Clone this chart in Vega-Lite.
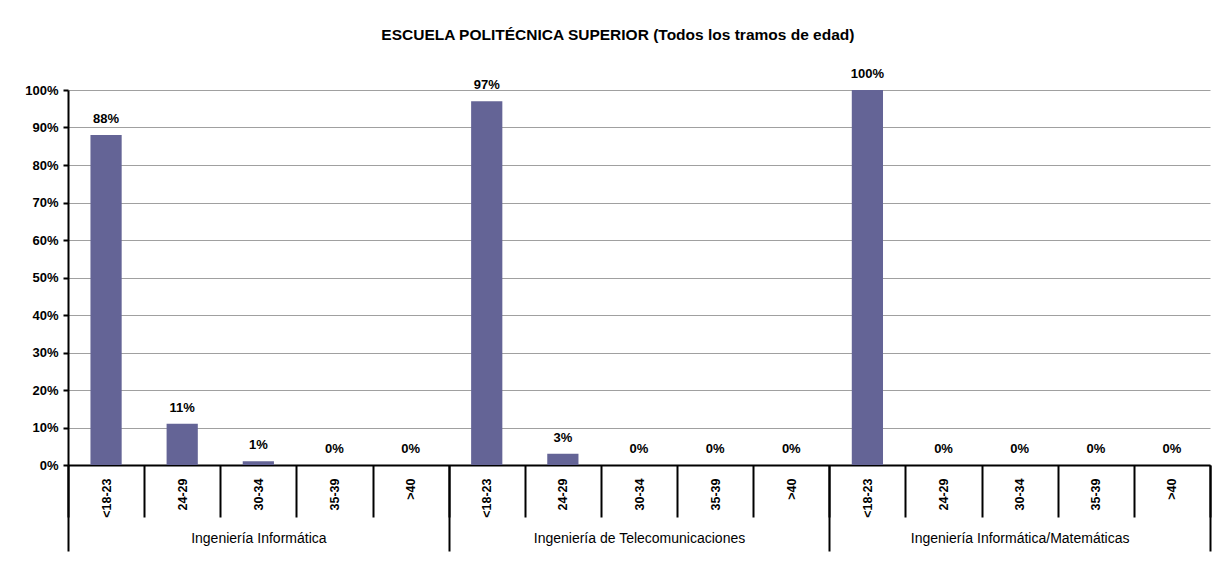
{
  "$schema": "https://vega.github.io/schema/vega-lite/v6.json",
  "width": 1142,
  "height": 375,
  "autosize": {"type": "none"},
  "padding": {"left": 68, "top": 90, "right": 21, "bottom": 111},
  "background": "white",
  "title": {
    "text": "ESCUELA POLITÉCNICA SUPERIOR (Todos los tramos de edad)",
    "font": "Liberation Sans",
    "fontSize": 15.5,
    "fontWeight": "bold",
    "color": "black",
    "anchor": "middle",
    "frame": "bounds",
    "offset": 25
  },
  "data": {
    "values": [
      {"key": "II|<18-23", "group": "Ingeniería Informática", "age": "<18-23", "pct": 0.88},
      {"key": "II|24-29", "group": "Ingeniería Informática", "age": "24-29", "pct": 0.11},
      {"key": "II|30-34", "group": "Ingeniería Informática", "age": "30-34", "pct": 0.01},
      {"key": "II|35-39", "group": "Ingeniería Informática", "age": "35-39", "pct": 0.0},
      {"key": "II|>40", "group": "Ingeniería Informática", "age": ">40", "pct": 0.0},
      {"key": "IT|<18-23", "group": "Ingeniería de Telecomunicaciones", "age": "<18-23", "pct": 0.97},
      {"key": "IT|24-29", "group": "Ingeniería de Telecomunicaciones", "age": "24-29", "pct": 0.03},
      {"key": "IT|30-34", "group": "Ingeniería de Telecomunicaciones", "age": "30-34", "pct": 0.0},
      {"key": "IT|35-39", "group": "Ingeniería de Telecomunicaciones", "age": "35-39", "pct": 0.0},
      {"key": "IT|>40", "group": "Ingeniería de Telecomunicaciones", "age": ">40", "pct": 0.0},
      {"key": "IM|<18-23", "group": "Ingeniería Informática/Matemáticas", "age": "<18-23", "pct": 1.0},
      {"key": "IM|24-29", "group": "Ingeniería Informática/Matemáticas", "age": "24-29", "pct": 0.0},
      {"key": "IM|30-34", "group": "Ingeniería Informática/Matemáticas", "age": "30-34", "pct": 0.0},
      {"key": "IM|35-39", "group": "Ingeniería Informática/Matemáticas", "age": "35-39", "pct": 0.0},
      {"key": "IM|>40", "group": "Ingeniería Informática/Matemáticas", "age": ">40", "pct": 0.0}
    ]
  },
  "layer": [
    {
      "encoding": {
        "x": {
          "field": "key",
          "type": "nominal",
          "sort": null,
          "scale": {"paddingInner": 0, "paddingOuter": 0},
          "axis": {
            "title": null,
            "orient": "bottom",
            "labelExpr": "split(datum.value, '|')[1]",
            "labelAngle": -90,
            "labelAlign": "right",
            "labelBaseline": "middle",
            "labelPadding": -39,
            "labelFont": "Liberation Sans",
            "labelFontSize": 12.5,
            "labelFontWeight": "bold",
            "labelColor": "black",
            "tickBand": "extent",
            "tickSize": 52,
            "tickWidth": 2,
            "tickColor": "black",
            "domainColor": "black",
            "domainWidth": 2,
            "grid": false
          }
        },
        "y": {
          "field": "pct",
          "type": "quantitative",
          "scale": {"domain": [0, 1], "nice": false},
          "axis": {
            "title": null,
            "values": [0, 0.1, 0.2, 0.3, 0.4, 0.5, 0.6, 0.7, 0.8, 0.9, 1],
            "format": ".0%",
            "labelOverlap": false,
            "labelFont": "Liberation Sans",
            "labelFontSize": 13,
            "labelFontWeight": "bold",
            "labelColor": "black",
            "labelPadding": 5,
            "tickSize": 5,
            "tickWidth": 2,
            "tickColor": "black",
            "domainColor": "black",
            "domainWidth": 2,
            "grid": true,
            "gridColor": "#a0a0a0",
            "gridWidth": 1
          }
        }
      },
      "layer": [
        {
          "mark": {"type": "bar", "color": "#646496", "width": {"band": 0.41}}
        },
        {
          "mark": {
            "type": "text",
            "font": "Liberation Sans",
            "fontSize": 13,
            "fontWeight": "bold",
            "color": "black",
            "baseline": "alphabetic",
            "dy": -12
          },
          "encoding": {
            "text": {"field": "pct", "type": "quantitative", "format": ".0%"}
          }
        }
      ]
    },
    {
      "mark": {"type": "bar", "opacity": 0},
      "encoding": {
        "x": {
          "field": "group",
          "type": "nominal",
          "sort": null,
          "scale": {"paddingInner": 0, "paddingOuter": 0},
          "axis": {
            "title": null,
            "orient": "bottom",
            "labelAngle": 0,
            "labelAlign": "center",
            "labelBaseline": "top",
            "labelPadding": -20,
            "labelLimit": 0,
            "labelFont": "Liberation Sans",
            "labelFontSize": 14,
            "labelFontWeight": "normal",
            "labelColor": "black",
            "tickBand": "extent",
            "tickSize": 86,
            "tickWidth": 2,
            "tickColor": "black",
            "domain": false,
            "grid": false
          }
        }
      }
    }
  ],
  "resolve": {"scale": {"x": "independent"}, "axis": {"x": "independent"}},
  "config": {"view": {"stroke": null}}
}
